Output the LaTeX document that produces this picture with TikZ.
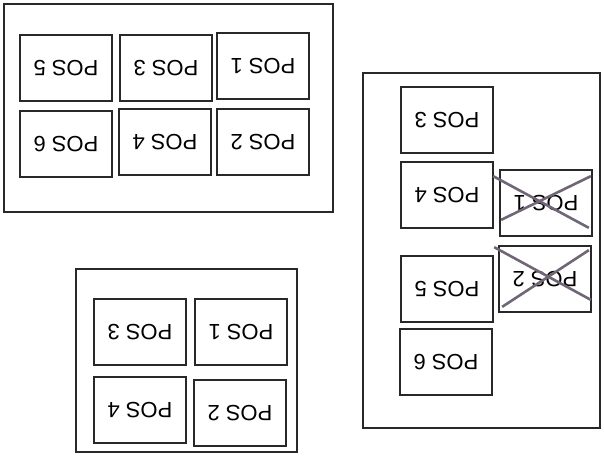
\documentclass[tikz,border=0pt]{standalone}
\usepackage{fontspec}
\setmainfont{Liberation Sans}
\usetikzlibrary{positioning}
\definecolor{inkgray}{RGB}{40,40,40}
\definecolor{crossgray}{RGB}{112,102,118}

\begin{document}
\begin{tikzpicture}[x=1pt,y=-1pt,
                frame/.style={draw=inkgray, line width=1.2pt},
                posbox/.style={rectangle, draw=inkgray, line width=1.7pt, fill=white,
                    minimum width=92pt, minimum height=66pt, inner sep=0pt,
                    font=\fontsize{22}{22}\selectfont},
                crossline/.style={draw=crossgray, line width=2.6pt},]
            \useasboundingbox (0,0) rectangle (604,472);
            % upper left tray
            \draw[frame] (4,4) rectangle (333,212);
            \node[posbox] (t5) at (66,68) {\rotatebox{180}{POS 5}};
            \node[posbox] (t3) at (166,68) {\rotatebox{180}{POS 3}};
            \node[posbox] (t1) at (263,66) {\rotatebox{180}{POS 1}};
            \node[posbox] (t6) at (66,144) {\rotatebox{180}{POS 6}};
            \node[posbox] (t4) at (165,142) {\rotatebox{180}{POS 4}};
            \node[posbox] (t2) at (263,142) {\rotatebox{180}{POS 2}};
            % lower tray
            \draw[frame] (76,269) rectangle (297,452);
            \node[posbox] (b3) at (140,332) {\rotatebox{180}{POS 3}};
            \node[posbox] (b1) at (241,332) {\rotatebox{180}{POS 1}};
            \node[posbox] (b4) at (140,410) {\rotatebox{180}{POS 4}};
            \node[posbox] (b2) at (240,413) {\rotatebox{180}{POS 2}};
            % right tray
            \draw[frame] (363,73) rectangle (600,428);
            \node[posbox] (r3) at (447,120) {\rotatebox{180}{POS 3}};
            \node[posbox] (r4) at (447,195) {\rotatebox{180}{POS 4}};
            \node[posbox] (r5) at (447,289) {\rotatebox{180}{POS 5}};
            \node[posbox] (r6) at (446,362) {\rotatebox{180}{POS 6}};
            \node[posbox] (r1) at (546,203) {\rotatebox{180}{POS 1}};
            \node[posbox] (r2) at (545,279) {\rotatebox{180}{POS 2}};
            % crossed out
            \draw[crossline] ([shift={(-6,7)}]r1.north west) -- ([shift={(-4,-9)}]r1.south east);
            \draw[crossline] ([shift={(2,-17)}]r1.south west) -- ([shift={(-2,7)}]r1.north east);
            \draw[crossline] ([shift={(-4,2)}]r2.north west) -- ([shift={(-1,-13)}]r2.south east);
            \draw[crossline] ([shift={(4,-6)}]r2.south west) -- ([shift={(-3,5)}]r2.north east);
        \end{tikzpicture}
\end{document}
